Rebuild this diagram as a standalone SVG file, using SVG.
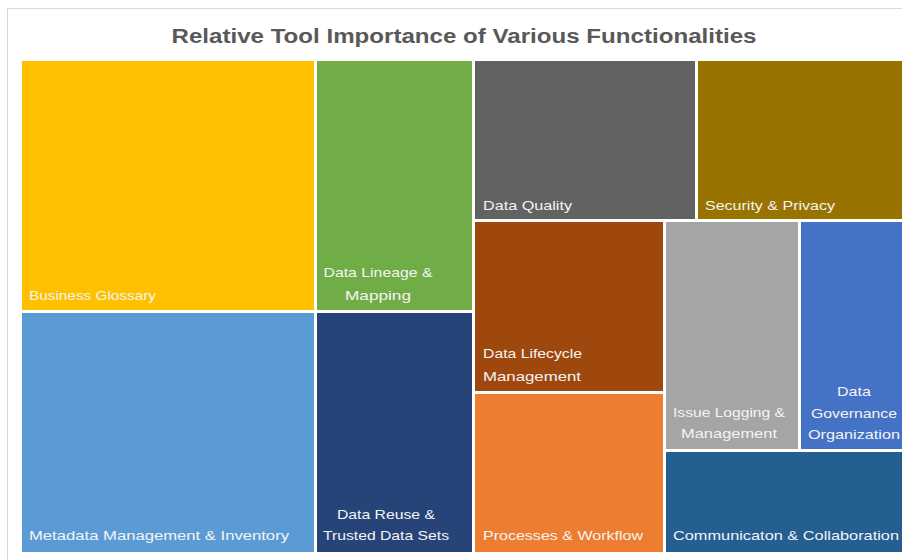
<svg xmlns="http://www.w3.org/2000/svg" width="902" height="560" viewBox="0 0 902 560">
<style>
.t{font-family:"Liberation Sans",Arial,sans-serif;font-size:13.5px;fill:#f4f4f4}
.title{font-family:"Liberation Sans",Arial,sans-serif;font-size:20px;font-weight:bold;fill:#595959}
</style>
<rect x="0" y="0" width="902" height="560" fill="#ffffff"/>
<rect x="7.5" y="8.5" width="900" height="560" fill="#ffffff" stroke="#d9d9d9" stroke-width="1"/>
<text class="title" x="464" y="43" text-anchor="middle" textLength="585" lengthAdjust="spacingAndGlyphs">Relative Tool Importance of Various Functionalities</text>
<g id="business-glossary"><rect x="22" y="61" width="292" height="249" fill="#FFC000"/><text class="t" x="29" y="300" textLength="127" lengthAdjust="spacingAndGlyphs">Business Glossary</text></g>
<g id="data-lineage"><rect x="317" y="61" width="155" height="249" fill="#70AD47"/><text class="t" x="378" y="277" text-anchor="middle" textLength="109" lengthAdjust="spacingAndGlyphs">Data Lineage &amp;</text><text class="t" x="378" y="300" text-anchor="middle" textLength="66" lengthAdjust="spacingAndGlyphs">Mapping</text></g>
<g id="data-quality"><rect x="475" y="61" width="220" height="158" fill="#626262"/><text class="t" x="483" y="210" textLength="89" lengthAdjust="spacingAndGlyphs">Data Quality</text></g>
<g id="security-privacy"><rect x="698" y="61" width="204" height="158" fill="#997300"/><text class="t" x="705" y="210" textLength="130" lengthAdjust="spacingAndGlyphs">Security &amp; Privacy</text></g>
<g id="metadata"><rect x="22" y="313" width="292" height="239" fill="#5B9BD5"/><text class="t" x="29" y="540" textLength="260" lengthAdjust="spacingAndGlyphs">Metadata Management &amp; Inventory</text></g>
<g id="data-reuse"><rect x="317" y="313" width="155" height="239" fill="#264478"/><text class="t" x="386" y="519" text-anchor="middle" textLength="98" lengthAdjust="spacingAndGlyphs">Data Reuse &amp;</text><text class="t" x="386" y="540" text-anchor="middle" textLength="126" lengthAdjust="spacingAndGlyphs">Trusted Data Sets</text></g>
<g id="data-lifecycle"><rect x="475" y="222" width="188" height="169" fill="#9E480E"/><text class="t" x="483" y="358" textLength="99" lengthAdjust="spacingAndGlyphs">Data Lifecycle</text><text class="t" x="483" y="381" textLength="98" lengthAdjust="spacingAndGlyphs">Management</text></g>
<g id="processes"><rect x="475" y="394" width="188" height="158" fill="#ED7D31"/><text class="t" x="483" y="540" textLength="160" lengthAdjust="spacingAndGlyphs">Processes &amp; Workflow</text></g>
<g id="issue-logging"><rect x="666" y="222" width="132" height="227" fill="#A5A5A5"/><text class="t" x="729" y="417" text-anchor="middle" textLength="112" lengthAdjust="spacingAndGlyphs">Issue Logging &amp;</text><text class="t" x="729" y="438" text-anchor="middle" textLength="96" lengthAdjust="spacingAndGlyphs">Management</text></g>
<g id="data-governance"><rect x="801" y="222" width="101" height="227" fill="#4472C4"/><text class="t" x="854" y="396" text-anchor="middle" textLength="34" lengthAdjust="spacingAndGlyphs">Data</text><text class="t" x="854" y="418" text-anchor="middle" textLength="86" lengthAdjust="spacingAndGlyphs">Governance</text><text class="t" x="854" y="439" text-anchor="middle" textLength="92" lengthAdjust="spacingAndGlyphs">Organization</text></g>
<g id="communication"><rect x="666" y="452" width="236" height="100" fill="#255E91"/><text class="t" x="673" y="540" textLength="226" lengthAdjust="spacingAndGlyphs">Communicaton &amp; Collaboration</text></g>
<g id="connectors"></g>
</svg>
